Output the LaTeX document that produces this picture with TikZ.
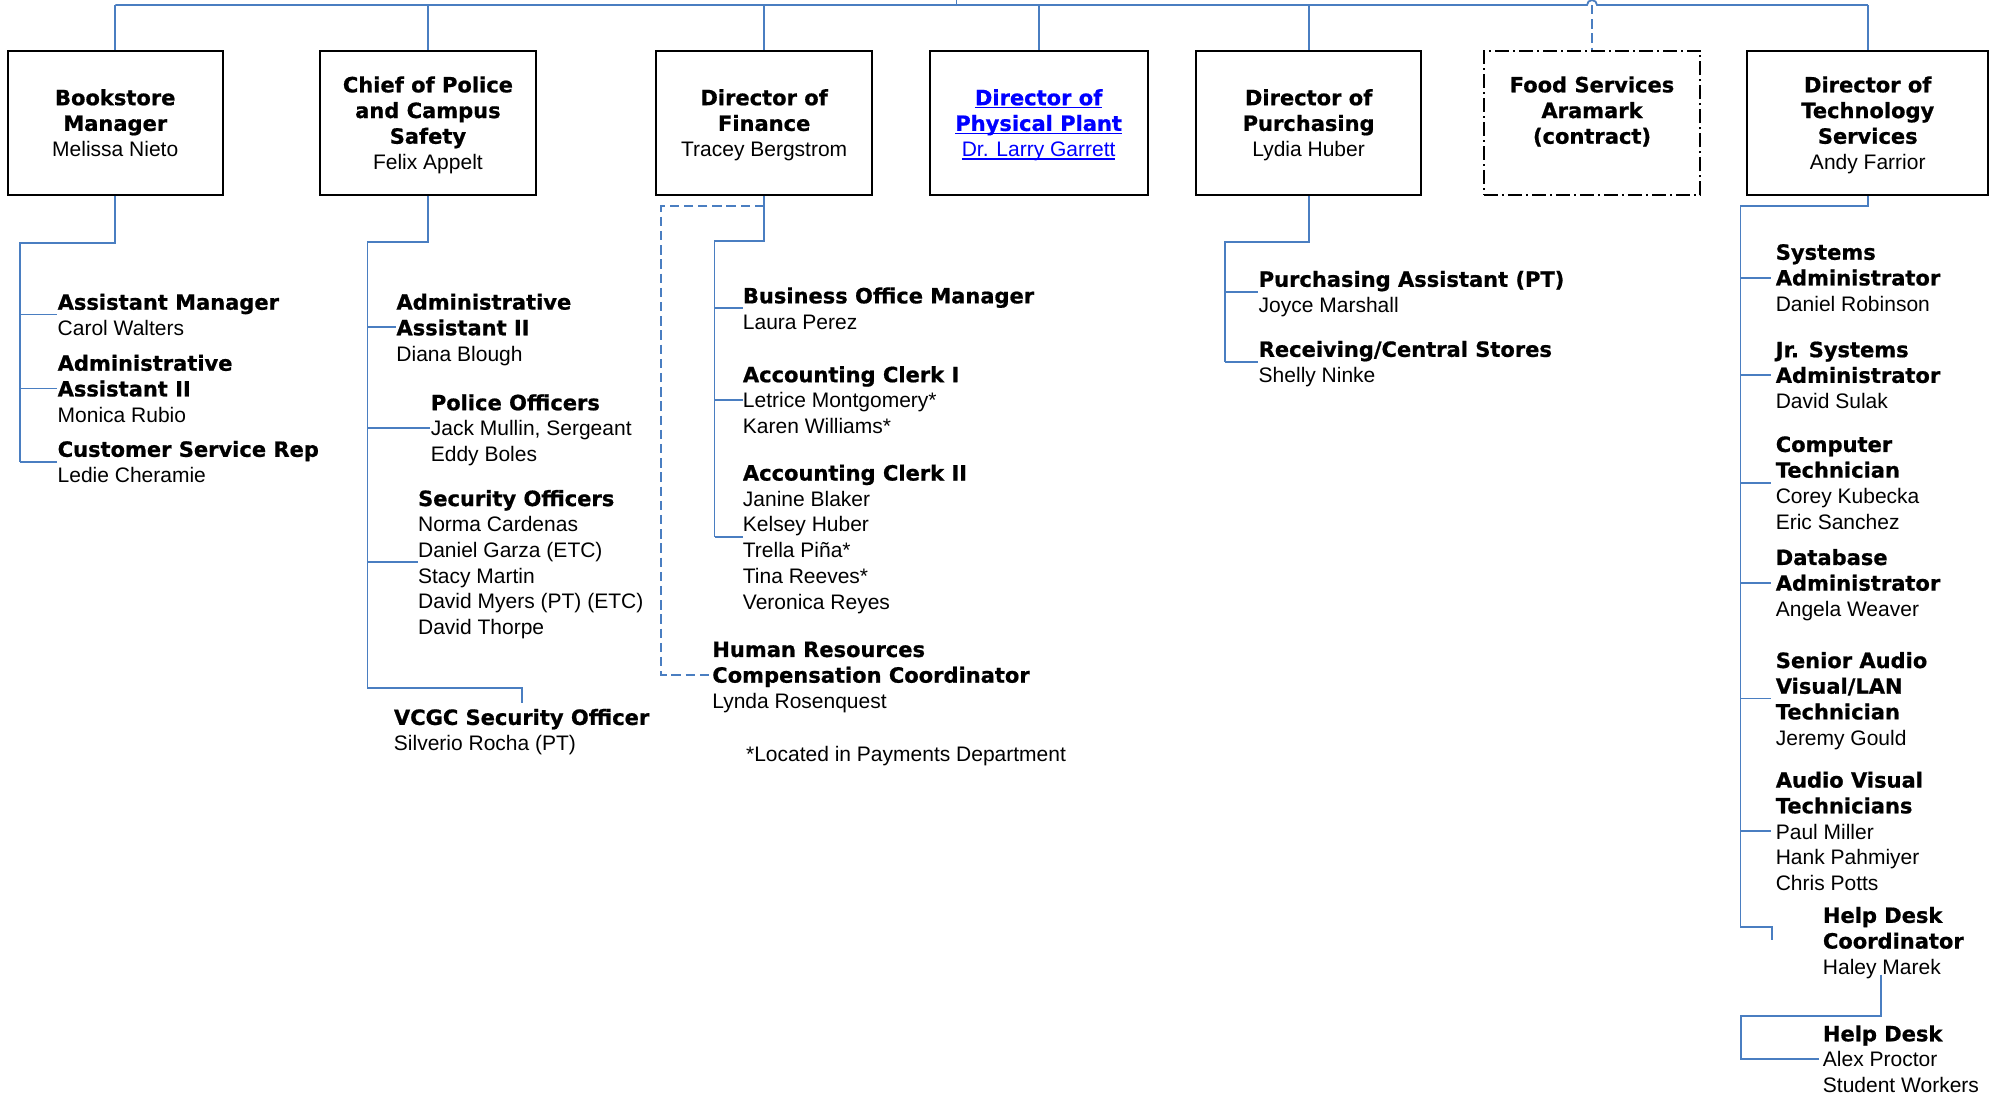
\documentclass[tikz,border=0pt]{standalone}
\usepackage{fontspec}
\setmainfont{Liberation Sans}
\newfontfamily\rolefont{DejaVu Sans}[BoldFeatures={FakeBold=0.8}]

\definecolor{connblue}{RGB}{74,126,193}
\definecolor{linkblue}{RGB}{0,0,255}

\newcommand\px{0.6368pt}
\newcommand\role[1]{{\rolefont\bfseries #1}}
\newsavebox\linkbox
\newcommand\linkline[1]{\sbox\linkbox{#1}\rlap{\rule[-1.5pt]{\wd\linkbox}{0.6pt}}\usebox\linkbox}

\begin{document}
\begin{tikzpicture}[x=\px, y=-\px,
    orgfont/.style={font=\fontsize{10.5}{12.85}\selectfont, text depth=0pt},
    box/.style={draw, line width=1pt, minimum height=113*\px, inner sep=0pt,
        align=center, orgfont},
    dashdotbox/.style={line width=0.8pt, dash pattern=on 7pt off 2pt on 1pt off 2pt},
    txt/.style={anchor=west, inner sep=0pt, align=left, orgfont},
    conn/.style={connblue, line width=0.9pt},
    conndash/.style={conn, dash pattern=on 4.7pt off 2.4pt}]
    \useasboundingbox (0,0) rectangle (1568,867);

    % Department boxes
    \node[box, minimum width=169*\px] (book) at (90.5,96.5)
        {\role{Bookstore}\\\role{Manager}\\Melissa Nieto};
    \node[box, minimum width=170*\px] (police) at (336,96.5)
        {\role{Chief of Police}\\\role{and Campus}\\\role{Safety}\\Felix Appelt};
    \node[box, minimum width=170*\px] (finance) at (600,96.5)
        {\role{Director of}\\\role{Finance}\\Tracey Bergstrom};
    \node[box, minimum width=171*\px, text=linkblue] (plant) at (815.5,96.5)
        {\linkline{\role{Director of}}\\\linkline{\role{Physical Plant}}\\\linkline{Dr. Larry Garrett}};
    \node[box, minimum width=177*\px] (purch) at (1027.5,96.5)
        {\role{Director of}\\\role{Purchasing}\\Lydia Huber};
    \node[box, dashdotbox, minimum width=170*\px] (food) at (1250,96.5)
        {\role{Food Services}\\\role{Aramark}\\\role{(contract)}\\\mbox{}};
    \node[box, minimum width=189*\px] (tech) at (1466.5,96.5)
        {\role{Director of}\\\role{Technology}\\\role{Services}\\Andy Farrior};

    % Bookstore staff
    \node[txt] (amgr) at (45,247) {\role{Assistant Manager}\\Carol Walters};
    \node[txt] (badmin) at (45,305) {\role{Administrative}\\\role{Assistant II}\\Monica Rubio};
    \node[txt] (csrep) at (45,362.5) {\role{Customer Service Rep}\\Ledie Cheramie};

    % Police staff
    \node[txt] (padmin) at (311,257) {\role{Administrative}\\\role{Assistant II}\\Diana Blough};
    \node[txt] (poff) at (338,336) {\role{Police Officers}\\Jack Mullin, Sergeant\\Eddy Boles};
    \node[txt] (soff) at (328,441.5) {\role{Security Officers}\\Norma Cardenas\\Daniel Garza (ETC)\\Stacy Martin\\David Myers (PT) (ETC)\\David Thorpe};
    \node[txt] (vcgc) at (309,573) {\role{VCGC Security Officer}\\Silverio Rocha (PT)};

    % Finance staff
    \node[txt] (bom) at (583,242) {\role{Business Office Manager}\\Laura Perez};
    \node[txt] (ac1) at (583,314) {\role{Accounting Clerk I}\\Letrice Montgomery*\\Karen Williams*};
    \node[txt] (ac2) at (583,421.5) {\role{Accounting Clerk II}\\Janine Blaker\\Kelsey Huber\\Trella Piña*\\Tina Reeves*\\Veronica Reyes};
    \node[txt] (hr) at (559,530) {\role{Human Resources}\\\role{Compensation Coordinator}\\Lynda Rosenquest};
    \node[txt] (note) at (585.5,592) {*Located in Payments Department};

    % Purchasing staff
    \node[txt] (passt) at (988,229) {\role{Purchasing Assistant (PT)}\\Joyce Marshall};
    \node[txt] (recv) at (988,284) {\role{Receiving/Central Stores}\\Shelly Ninke};

    % Technology staff
    \node[txt] (sysad) at (1394,218) {\role{Systems}\\\role{Administrator}\\Daniel Robinson};
    \node[txt] (jrsys) at (1394,294.5) {\role{Jr. Systems}\\\role{Administrator}\\David Sulak};
    \node[txt] (comptech) at (1394,379) {\role{Computer}\\\role{Technician}\\Corey Kubecka\\Eric Sanchez};
    \node[txt] (dba) at (1394,457.5) {\role{Database}\\\role{Administrator}\\Angela Weaver};
    \node[txt] (senav) at (1394,548.5) {\role{Senior Audio}\\\role{Visual/LAN}\\\role{Technician}\\Jeremy Gould};
    \node[txt] (avtech) at (1394,652.5) {\role{Audio Visual}\\\role{Technicians}\\Paul Miller\\Hank Pahmiyer\\Chris Potts};
    \node[txt] (hdc) at (1431,738.5) {\role{Help Desk}\\\role{Coordinator}\\Haley Marek};
    \node[txt] (hdesk) at (1431,831.5) {\role{Help Desk}\\Alex Proctor\\Student Workers};

    % Turning points of the connectors
    \coordinate (pres) at (751,0);
    \coordinate (bar) at (751,4);
    \coordinate (bspine) at (16,191);
    \coordinate (pspine) at (288.5,190);
    \coordinate (pbot) at (288.5,540);
    \coordinate (fspine) at (561,189);
    \coordinate (fdash) at (519,162);
    \coordinate (uspine) at (962,190);
    \coordinate (tspine) at (1366.5,162);
    \coordinate (tbot) at (1366.5,728);
    \coordinate (tend) at (1391,738);
    \coordinate (hjoin) at (1367,798);

    % Top bar
    \draw[conn] (pres) -- (bar);
    \draw[conn] (book.north |- bar) -- ([xshift=-2.5pt]food.north |- bar)
        arc[start angle=180, end angle=0, radius=2.5pt] -- (tech.north |- bar);
    \foreach \b in {book,police,finance,plant,purch,tech}
        \draw[conn] (\b.north |- bar) -- (\b.north);
    \draw[conndash] (food.north |- bar) -- (food.north);

    % Bookstore
    \draw[conn] (book.south) |- (bspine) -- (bspine |- csrep.west);
    \foreach \n in {amgr,badmin,csrep}
        \draw[conn] (bspine |- \n.west) -- (\n.west);

    % Police
    \draw[conn] (police.south) |- (pspine) -- (pbot) -| ([yshift=3pt]vcgc.north);
    \foreach \n in {padmin,poff,soff}
        \draw[conn] (pspine |- \n.west) -- (\n.west);

    % Finance
    \draw[conn] (finance.south) |- (fspine) -- (fspine |- ac2.west);
    \foreach \n in {bom,ac1,ac2}
        \draw[conn] (fspine |- \n.west) -- (\n.west);
    \draw[conndash] (finance.south |- fdash) -- (fdash) |- (hr.west);

    % Purchasing
    \draw[conn] (purch.south) |- (uspine) -- (uspine |- recv.west);
    \foreach \n in {passt,recv}
        \draw[conn] (uspine |- \n.west) -- (\n.west);

    % Technology
    \draw[conn] (tech.south) |- (tspine) -- (tbot) -| (tend);
    \foreach \n in {sysad,jrsys,comptech,dba,senav,avtech}
        \draw[conn] (tspine |- \n.west) -- ([xshift=-2pt]\n.west);
    \draw[conn] ([xshift=-6pt]hdc.south) |- (hjoin) |- ([xshift=-2pt]hdesk.west);
\end{tikzpicture}
\end{document}
